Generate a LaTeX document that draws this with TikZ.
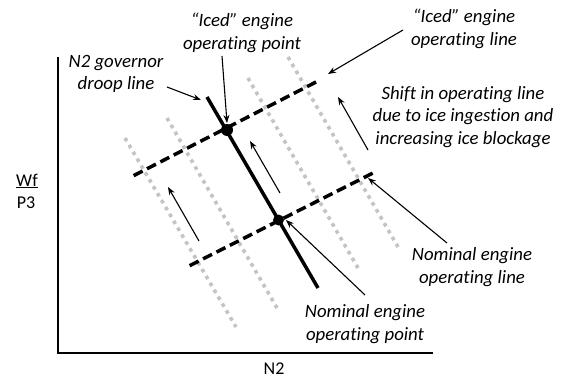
\documentclass[tikz,border=0pt]{standalone}
\usepackage{fontspec}
\setmainfont{Carlito}[Ligatures=CommonOff]
\usetikzlibrary{arrows.meta}
\definecolor{shiftgray}{RGB}{196,196,196}
\begin{document}
\begin{tikzpicture}[x=1pt,y=-1pt,
  axisline/.style={line width=2.6pt},
  droopline/.style={line width=3.5pt},
  opline/.style={line width=3.5pt, dash pattern=on 10pt off 5pt, dash phase=12pt},
  shiftline/.style={line width=3.6pt, shiftgray, dash pattern=on 3.6pt off 4.4pt},
  pointer/.style={line width=1.1pt, -{Stealth[length=8pt,width=6pt]}},
  opdot/.style={circle, fill=black, inner sep=0pt, minimum size=12pt},
  note/.style={font=\itshape\fontsize{18.8}{22.8}\selectfont, align=center, inner sep=0pt},
  axlabel/.style={font=\fontsize{18}{22}\selectfont, inner sep=0pt}]
\useasboundingbox (0,0) rectangle (569,379);

% axes
\coordinate (ytop) at (58,57);
\coordinate (org) at (58,353);
\coordinate (xend) at (433,353);
\draw[axisline] (ytop) -- (org) -- (xend);
\node[axlabel] (wf) at (27,181) {\underline{Wf}};
\node[axlabel] (p3) at (26,203) {P3};
\node[axlabel, text depth=0pt] (n2) at (274,369) {N2};

% operating lines shifting with ice blockage
\coordinate (s1a) at (125,138); \coordinate (s1b) at (236,327);
\coordinate (s2a) at (167,118); \coordinate (s2b) at (277,308);
\coordinate (s3a) at (248,78);  \coordinate (s3b) at (358,268);
\coordinate (s4a) at (288,57);  \coordinate (s4b) at (398,247);
\draw[shiftline] (s1a) -- (s1b);
\draw[shiftline] (s2a) -- (s2b);
\draw[shiftline] (s3a) -- (s3b);
\draw[shiftline] (s4a) -- (s4b);

% engine operating lines
\coordinate (iceda) at (131,177); \coordinate (icedb) at (318,81);
\coordinate (noma) at (187,267);  \coordinate (nomb) at (375,172);
\draw[opline] (iceda) -- (icedb);
\draw[opline] (noma) -- (nomb);

% governor droop line
\coordinate (droopa) at (207,97); \coordinate (droopb) at (318,288);
\draw[droopline] (droopa) -- (droopb);

% operating points
\node[opdot] (icedpt) at (227,130) {};
\node[opdot, minimum size=11pt] (nompt) at (278.5,220) {};

% shift arrows
\coordinate (sh1a) at (199,241); \coordinate (sh1b) at (168,187);
\coordinate (sh2a) at (280,193); \coordinate (sh2b) at (250,141);
\coordinate (sh3a) at (368,150); \coordinate (sh3b) at (338,97);
\draw[pointer] (sh1a) -- (sh1b);
\draw[pointer] (sh2a) -- (sh2b);
\draw[pointer] (sh3a) -- (sh3b);

% annotations
\node[note] (lbicedpt) at (242,33) {“Iced” engine\\operating point};
\node[note] (lbicedln) at (464,29) {“Iced” engine\\operating line};
\node[note] (lbdroop) at (116,74) {N2 governor\\droop line};
\node[note] (lbshift) at (463,117) {Shift in operating line\\due to ice ingestion and\\increasing ice blockage};
\node[note] (lbnomln) at (472,267) {Nominal engine\\operating line};
\node[note] (lbnompt) at (365,324) {Nominal engine\\operating point};

\coordinate (t1) at (222,56);  \coordinate (h1) at (227,123);
\coordinate (t2) at (403,30);  \coordinate (h2) at (328,74);
\coordinate (t3) at (167,87);  \coordinate (h3) at (201,100);
\coordinate (t4) at (447,243); \coordinate (h4) at (368,178);
\coordinate (t5) at (365,295); \coordinate (h5) at (286,220);
\draw[pointer] (t1) -- (h1);
\draw[pointer] (t2) -- (h2);
\draw[pointer] (t3) -- (h3);
\draw[pointer] (t4) -- (h4);
\draw[pointer] (t5) -- (h5);
\end{tikzpicture}
\end{document}
